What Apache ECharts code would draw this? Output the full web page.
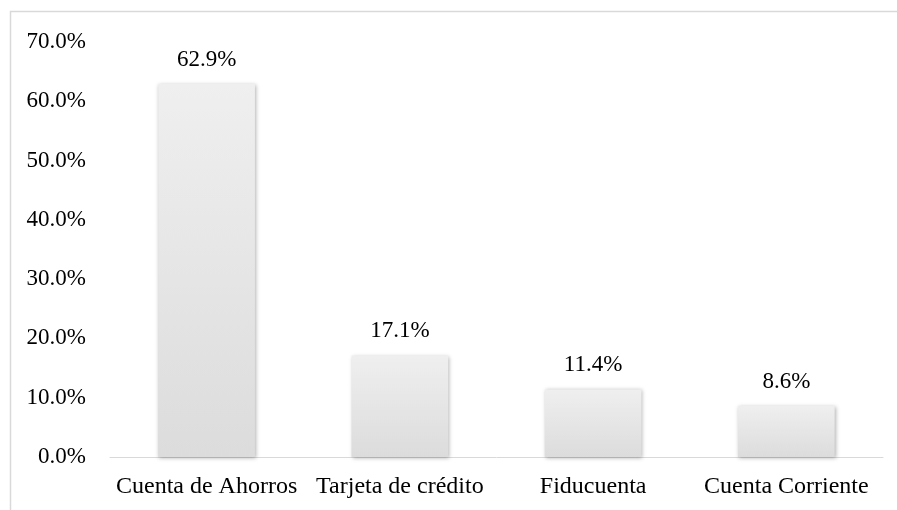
<!DOCTYPE html>
<html>
<head>
<meta charset="utf-8">
<script src="https://cdn.jsdelivr.net/npm/echarts@6/dist/echarts.min.js"></script>
<style>
  html, body { margin: 0; padding: 0; background: #fff; }
  #chart { width: 897px; height: 510px; }
</style>
</head>
<body>
<div id="chart"></div>
<script>
// datos
const categories = ['Cuenta de Ahorros', 'Tarjeta de crédito', 'Fiducuenta', 'Cuenta Corriente']
const values = [62.9, 17.1, 11.4, 8.6]

const chart = echarts.init(document.getElementById('chart'))
const font = '"Liberation Serif", "Times New Roman", serif'

const option = {
  animation: false,
  textStyle: { fontFamily: font },
  graphic: [
    {
      type: 'rect',
      shape: { x: 10.5, y: 11.5, width: 900, height: 520 },
      style: { fill: 'none', stroke: '#d9d9d9', lineWidth: 1.5 },
      silent: true
    }
  ],
  grid: { left: 110, right: 14, top: 42, bottom: 53 },
  xAxis: {
    type: 'category',
    data: categories,
    axisTick: { show: false },
    axisLine: { lineStyle: { color: '#d9d9d9', width: 1 } },
    axisLabel: { color: '#000', fontSize: 24, fontFamily: font, margin: 18, interval: 0 }
  },
  yAxis: {
    type: 'value',
    min: 0,
    max: 70,
    interval: 10,
    splitLine: { show: false },
    axisLine: { show: false },
    axisTick: { show: false },
    axisLabel: {
      color: '#000',
      fontSize: 23,
      fontFamily: font,
      margin: 24,
      formatter: v => v.toFixed(1) + '%'
    }
  },
  series: [
    {
      type: 'bar',
      data: values,
      barWidth: '50%',
      itemStyle: {
        color: new echarts.graphic.LinearGradient(0, 0, 0, 1, [
          { offset: 0, color: '#efefef' },
          { offset: 1, color: '#dcdcdc' }
        ]),
        shadowBlur: 4,
        shadowOffsetX: 1,
        shadowOffsetY: 1,
        shadowColor: 'rgba(0,0,0,0.3)'
      },
      label: {
        show: true,
        position: 'top',
        distance: 13,
        color: '#000',
        fontSize: 23,
        fontFamily: font,
        formatter: p => p.value.toFixed(1) + '%'
      }
    }
  ]
}

chart.setOption(option)
</script>
</body>
</html>
